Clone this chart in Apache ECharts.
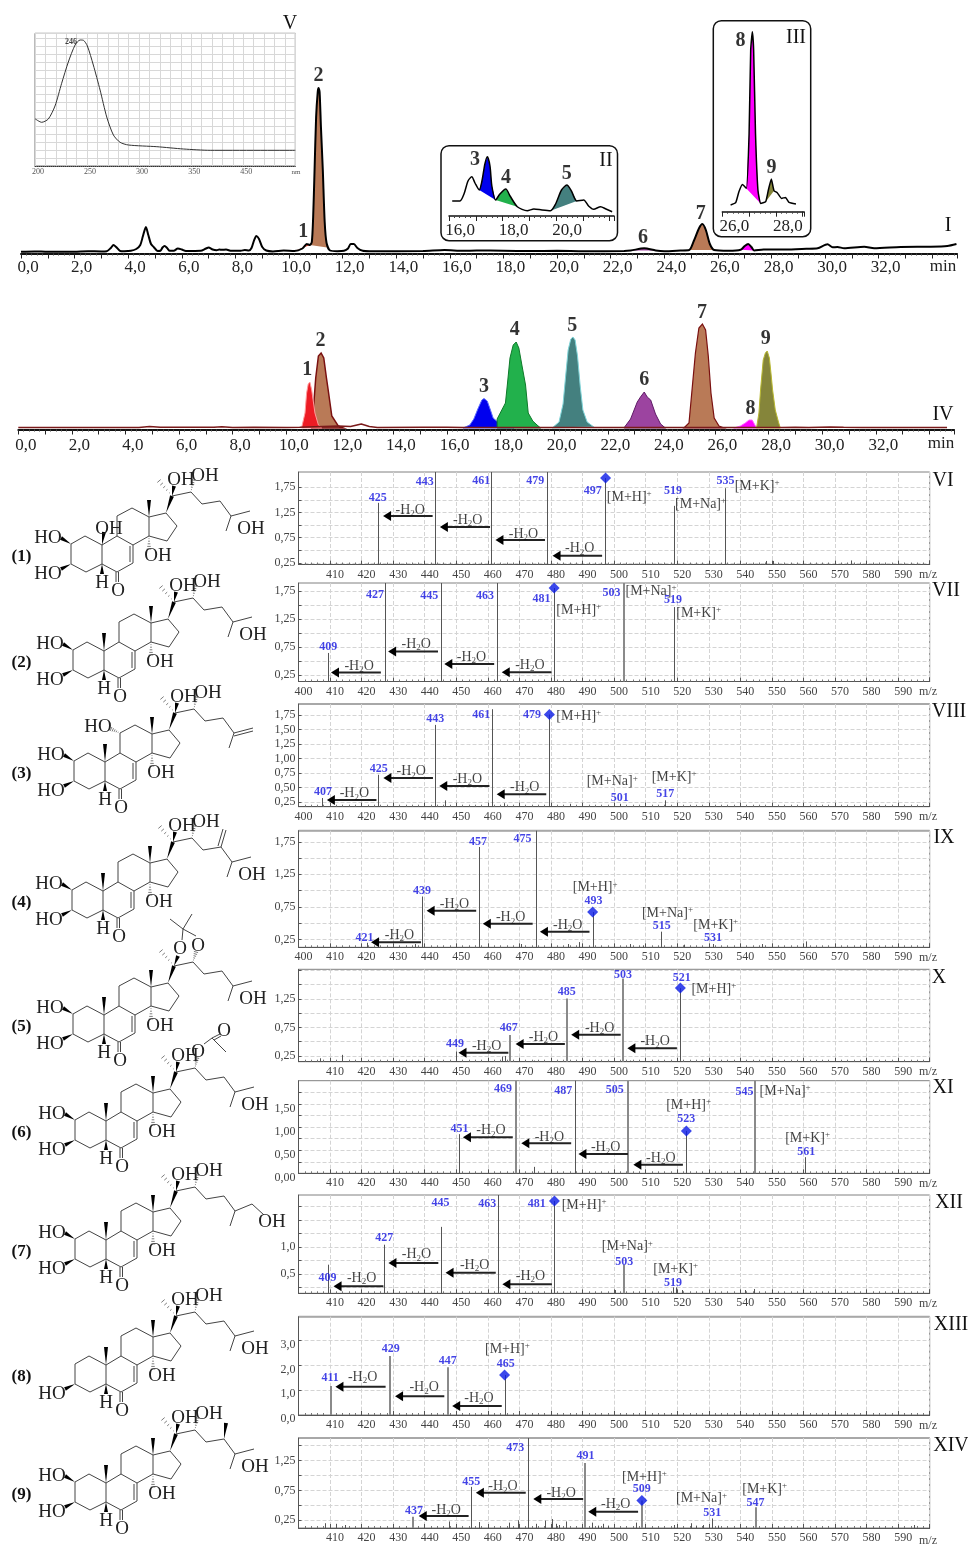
<!DOCTYPE html>
<html><head><meta charset="utf-8">
<style>html,body{margin:0;padding:0;background:#fff}#c{width:968px;height:1544px}</style>
<script src="https://cdn.jsdelivr.net/npm/echarts@6/dist/echarts.min.js"></script>
</head><body><div id="c"></div>
<script>
// ---------- chromatogram I (time, signal) ----------
const traceI=[[0,.3],[.5,.6],[1,.2],[2,.3],[2.5,.7],[3,.6],[3.2,.8],[3.35,4],[3.45,7],[3.55,5],[3.7,1],[3.85,.8],[4.1,1.2],[4.3,3],[4.45,7],[4.55,16],[4.66,25],[4.75,17],[4.85,8],[4.95,5],[5.1,1],[5.2,1.2],[5.28,4.5],[5.36,6],[5.45,4],[5.55,1.2],[5.7,1.2],[5.85,3.5],[6,2.5],[6.15,1],[6.7,1.2],[6.9,3.5],[7,4.5],[7.15,2.5],[7.3,1.8],[7.4,2.5],[7.5,2.2],[7.65,2.4],[7.85,1.2],[8.2,1.2],[8.35,2],[8.5,1.5],[8.6,4],[8.7,12],[8.78,16],[8.88,13],[9,5],[9.15,1.5],[9.4,.6],[9.8,1.5],[10.2,1],[10.5,3.5],[10.66,8],[10.78,7],[10.85,10],[10.9,35],[10.95,80],[11.01,135],[11.07,160],[11.1,164],[11.14,160],[11.19,125],[11.26,82],[11.33,30],[11.4,9],[11.53,1.5],[11.8,.8],[12.05,1.2],[12.2,3.5],[12.3,8],[12.42,8],[12.55,4],[12.75,1.2],[13,.8],[15,1],[15.8,2],[16.5,1.2],[17,1.5],[18,1.2],[19,.9],[20,1.2],[21,.8],[22.5,1],[22.75,1.5],[23.25,3.7],[23.68,1.5],[24,.8],[24.6,1.5],[24.93,2],[25.1,11],[25.3,24],[25.42,28],[25.55,22],[25.7,8],[25.86,2],[26.4,1.2],[26.85,2.2],[27,6],[27.13,8],[27.25,5],[27.35,1.5],[27.7,2.5],[28.5,2.5],[29.3,3.2],[29.72,3.7],[30.09,7.7],[30.28,4.7],[30.46,5],[30.71,3.7],[31.46,5.3],[31.83,3.7],[32.82,5],[33.94,5.3],[34.56,6],[34.9,8]];
const fill1I=[[10.2,1],[10.5,3.5],[10.66,8],[10.78,7]];
const fill2I=[[10.78,7],[10.85,10],[10.9,35],[10.95,80],[11.01,135],[11.07,160],[11.1,164],[11.14,160],[11.19,125],[11.26,82],[11.33,30],[11.4,9],[11.42,4.5]];
const fill6I=[[22.75,1.5],[23.25,3.7],[23.68,1.5]];
const fill7I=[[24.93,2],[25.1,11],[25.3,24],[25.42,28],[25.55,22],[25.7,8],[25.86,2]];
const fill8I=[[26.85,2.2],[27,6],[27.13,8],[27.25,5],[27.35,1.5]];
const namesI=[[10.53,21,'1'],[11.1,177,'2'],[23.21,15,'6'],[25.36,39,'7']];
// ---------- chromatogram IV ----------
const baseIV=[[0,.5],[4.5,.5],[4.9,1.5],[5.3,.7],[7.3,.7],[7.6,1.2],[8,.6],[8.8,.8],[10,.5],[10.5,.7],[11.94,2],[12.4,1.5],[12.8,4],[13.1,1.5],[13.4,.6],[15.1,.8],[16,.8],[16.6,.5],[19.5,.5],[22.6,.5],[24.8,.5],[26.6,.5],[28.5,.6],[29,.8],[29.5,.6],[30.3,1],[30.8,.8],[31.5,.6],[34.66,.5]];
const peak1IV=[[10.57,0],[10.7,15],[10.76,35],[10.82,44],[10.88,46],[10.95,38],[11.07,15],[11.2,3],[11.32,0]];
const peak2IV=[[10.95,0],[11.03,25],[11.1,50],[11.2,72],[11.3,75],[11.4,70],[11.5,50],[11.57,37],[11.7,12],[11.94,2],[12.13,0]];
const peak3IV=[[16.6,0],[16.85,3],[17,9],[17.15,19],[17.3,28],[17.38,29.5],[17.5,27],[17.62,18],[17.72,10],[17.85,7],[18.1,4],[18.5,0]];
const peak4IV=[[17.87,0],[17.87,9],[18.18,25],[18.25,43],[18.35,70],[18.47,83],[18.58,86],[18.68,80],[18.8,62],[18.93,43],[19.03,15],[19.2,7],[19.36,3],[19.49,0]];
const peak5IV=[[19.92,0],[20.18,6],[20.33,24],[20.42,50],[20.52,78],[20.62,89],[20.7,91],[20.78,88],[20.87,72],[20.97,42],[21.07,18],[21.23,6],[21.48,1]];
const peak6IV=[[22.6,0],[22.85,9],[23.1,26],[23.22,31],[23.36,36],[23.47,31],[23.6,28],[23.78,14],[23.97,4],[24.15,0]];
const peak7IV=[[24.84,0],[25.03,5],[25.15,40],[25.27,75],[25.4,100],[25.53,104],[25.65,98],[25.75,72],[25.85,35],[25.97,10],[26.15,2],[26.33,0]];
const peak8IV=[[26.7,0],[26.95,2],[27.13,5],[27.27,8],[27.39,8],[27.51,2],[27.57,0]];
const peak9IV=[[27.55,0],[27.64,15],[27.7,38],[27.8,68],[27.88,75],[27.95,77],[28.03,70],[28.1,52],[28.15,38],[28.25,18],[28.38,5],[28.44,0]];
const namesIV=[[10.78,59,'1'],[11.28,88,'2'],[17.38,42,'3'],[18.53,99,'4'],[20.67,103,'5'],[23.36,49,'6'],[25.52,116,'7'],[27.33,20,'8'],[27.89,90,'9']];
// ---------- UV spectrum V ----------
const spectrumV=[[200,47.3],[206.4,43.7],[212.8,47],[219.2,60],[225.6,82.7],[232,104],[238.5,121],[243.3,126],[246.5,125.7],[250.3,120],[256,101],[262.5,76],[268.9,49],[275.3,31],[281.7,23.7],[289.7,21],[317,19.3],[342.6,17],[368.3,15.7],[450,15.7]];
// ---------- inset II ----------
const traceII=[[16.12,15],[16.41,15],[16.56,22],[16.71,35],[16.85,39.3],[16.97,33],[17.13,26],[17.23,35],[17.34,52],[17.43,59.3],[17.53,50],[17.6,30],[17.74,16],[17.9,22],[18.12,27],[18.28,20],[18.55,9.3],[18.92,5.3],[19.17,7],[19.47,6],[19.79,5.3],[19.98,12],[20.2,26],[20.4,31],[20.57,25],[20.77,15],[21.03,16],[21.21,10],[21.4,6.7],[21.66,9.3],[21.86,7],[22.09,4.3]];
const fill3II=[[17.13,26],[17.23,35],[17.34,52],[17.43,59.3],[17.53,50],[17.6,30],[17.74,16]];
const fill4II=[[17.74,16],[17.9,22],[18.12,27],[18.28,20],[18.55,9.3]];
const fill5II=[[19.79,5.3],[19.98,12],[20.2,26],[20.4,31],[20.57,25],[20.77,15]];
const namesII=[[16.97,57,'3'],[18.13,39,'4'],[20.4,43,'5']];
// ---------- inset III ----------
const traceIII=[[26.31,6.7],[26.5,9],[26.62,20],[26.75,27.3],[26.9,23.3],[27,78],[27.06,161.7],[27.12,180],[27.17,161.7],[27.24,78],[27.33,21.7],[27.43,8.3],[27.62,10],[27.72,21.7],[27.83,32.7],[27.93,21],[28.05,19],[28.21,13.3],[28.36,14.3],[28.49,9.3],[28.75,7.7]];
const fill8III=[[26.9,23.3],[27,78],[27.06,161.7],[27.12,180],[27.17,161.7],[27.24,78],[27.33,21.7],[27.43,8.3]];
const fill9III=[[27.62,10],[27.72,21.7],[27.83,32.7],[27.93,21]];
const namesIII=[[26.68,172,'8'],[27.84,45,'9']];
// ---------- mass spectra ----------
const peaksVI=[[425.2,1.44],[443.2,2.05],[461,2.05],[478.6,2.05],[497,1.93],[519,1.38],[535,1.73],[548,.29],[550.5,.29],[575,.3]];
const markVI=[[497.3,1.93]];
const blueVI=[[440,83.5,'443'],[457.9,84.5,'461'],[475,84.5,'479'],[425.1,67.5,'425'],[493.2,74.5,'497'],[518.7,74.5,'519'],[535.3,84.5,'535']];
const ionsVI=[[504.8,68.5,'M+H'],[527.4,61.5,'M+Na'],[545.3,79.5,'M+K']];
const lossVI=[[442.5,426.8,48.5,435.4,55.5],[460.7,444.8,37.5,453.6,45.5],[478.1,462.4,24.5,471.3,31.5],[496.2,480.5,8.8,489.1,16.8]];

const peaksVII=[[409.2,.64],[427.4,1.89],[445,1.89],[463,1.89],[481,1.8],[503.2,1.89],[519,1.46]];
const markVII=[[481,1.8]];
const blueVII=[[424.2,87.5,'427'],[441.4,86.5,'445'],[459.1,87,'463'],[477,84,'481'],[499.2,90,'503'],[518.7,82.5,'519'],[409.4,35.5,'409']];
const ionsVII=[[488.8,72.5,'M+H'],[511.7,91.5,'M+Na'],[526.8,69,'M+K']];
const lossVII=[[480.2,464.4,9.2,473.3,17.5],[462,446.2,17.5,454.8,25.5],[444.2,428.4,30,437.3,38],[426.1,410.3,9,419.2,16.5]];

const peaksVIII=[[407.6,.32],[425.1,.72],[443.3,1.58],[446.3,.28],[461.4,1.85],[465.1,.23],[479.5,1.76],[486,.22],[501.8,.22],[516.2,.28]];
const markVIII=[[479.5,1.76]];
const blueVIII=[[407.8,15.7,'407'],[425.4,38.4,'425'],[443.3,88.4,'443'],[457.9,92.7,'461'],[474,92.4,'479'],[501.8,10,'501'],[516.2,14,'517']];
const ionsVIII=[[488.8,91.7,'M+H'],[499.4,26,'M+Na'],[519,30.7,'M+K']];
const lossVIII=[[478.5,462.8,12.4,471.7,20],[460.5,444.6,20.7,453.5,28.4],[442.6,426.9,28.7,435.7,36],[424.7,409,6.7,417.7,14]];

const peaksIX=[[421.7,.2],[437,.18],[439.2,.91],[457.2,1.67],[470.6,.18],[475.1,1.92],[485.4,.18],[488.8,.21],[493.2,.67],[505.1,.18],[509,.16],[515,.37],[522,.17],[531.3,.18],[546.9,.18],[560.9,.22]];
const markIX=[[493.2,.67]];
const blueIX=[[420.9,10,'421'],[439.1,57.3,'439'],[456.9,106,'457'],[471,109.6,'475'],[493.5,47.3,'493'],[515.1,22.3,'515'],[531.3,10.6,'531']];
const ionsIX=[[494,60.6,'M+H'],[516.9,35,'M+Na'],[532.2,23.3,'M+K']];
const lossIX=[[492.2,476.5,15.6,485.3,23],[474.2,458.4,23.6,467.2,30.6],[456.3,440.6,36.6,449.4,44],[438.8,423,5,432,13]];

const peaksX=[[406.9,.21],[413.7,.27],[449.8,.33],[464.4,.24],[465.4,.25],[467,.62],[474.5,.17],[485.1,1.26],[502.8,1.61],[505,.17],[521,1.44],[528,.17]];
const markX=[[521,1.44]];
const blueX=[[449.6,19,'449'],[466.6,34.4,'467'],[485,71,'485'],[502.8,87.4,'503'],[521.4,85,'521']];
const ionsX=[[531.6,73.4,'M+H']];
const lossX=[[519.9,504.2,13.4,513,21],[502.1,486.4,27,495.4,34.4],[484.4,468.8,17.7,477.6,25.7],[466.5,450.7,9,459.6,16.7]];

const peaksXI=[[451,.85],[468.8,2.01],[474.7,.14],[487.7,2.01],[504.4,2.01],[522.9,.92],[544.8,2.01],[560.5,.35]];
const markXI=[[522.9,.92]];
const blueXI=[[451,45.6,'451'],[464.8,85.6,'469'],[483.9,83.3,'487'],[500.2,84.6,'505'],[522.9,55.3,'523'],[541.3,82.6,'545'],[560.9,22.6,'561']];
const ionsXI=[[523.6,69.3,'M+H'],[554.2,83.3,'M+Na'],[561.3,36,'M+K']];
const lossXI=[[521.8,506.1,8.6,514.8,16],[504.4,488.7,19.3,497.3,26.6],[486.4,470.6,30,479.5,37.3],[467.9,452.1,36,461,43.6]];

const peaksXII=[[409.2,.67],[427.2,1.04],[445.3,1.37],[463.3,1.96],[481.1,1.85],[500.3,.2],[503.1,.67],[518.7,.25],[519.5,.25],[521.5,.2],[541.4,.2],[544.2,.22]];
const markXII=[[481.1,1.85]];
const blueXII=[[409.2,16.6,'409'],[427.2,56,'427'],[445,91.6,'445'],[459.8,90.6,'463'],[475.5,90.6,'481'],[503.2,32.6,'503'],[518.7,11.6,'519']];
const ionsXII=[[490.5,89.3,'M+H'],[504.2,47.6,'M+Na'],[519.5,25,'M+K']];
const lossXII=[[480.3,464.6,9,473.5,18.3],[462.5,446.6,20.6,455.8,29.3],[444.3,428.5,30.3,437.4,39.6],[426.9,411.1,7,420,16]];

const peaksXIII=[[410.4,1.17],[429.1,2.38],[447.4,1.92],[465.3,1.61]];
const markXIII=[[465.3,1.61]];
const blueXIII=[[410,38,'411'],[429.2,67.3,'429'],[447.3,55,'447'],[465.7,51.7,'465']];
const ionsXIII=[[466.2,66.7,'M+H']];
const lossXIII=[[464.4,448.7,9,457.2,18],[446.2,430.6,18.7,439.8,28.3],[427.6,411.7,28.3,420.3,39]];

const peaksXIV=[[408.5,.2],[412,.19],[414.6,.17],[430,.16],[436.3,.31],[447.7,.23],[454.8,.81],[457.2,.22],[466.8,.21],[469.5,.25],[472.8,1.63],[475.4,.19],[478.1,.245],[480.3,.27],[481.7,.19],[482.5,.17],[484.8,.23],[490.9,1.21],[493.1,.21],[494.8,.16],[496.5,.19],[498.1,.16],[506.9,.21],[508.8,.58],[519.1,.17],[524.4,.2],[526.1,.16],[528.1,.17],[530.9,.28],[533,.16],[545,.47],[589.8,.16],[595,.17]];
const markXIV=[[508.8,.58]];
const blueXIV=[[436.6,19,'437'],[454.7,47.7,'455'],[468.7,82.7,'473'],[490.9,75,'491'],[508.8,40.7,'509'],[531.1,16,'531'],[544.8,26.7,'547']];
const ionsXIV=[[509.6,52.7,'M+H'],[527.7,31,'M+Na'],[547.7,41,'M+K']];
const lossXIV=[[507.6,491.8,16.7,500.5,25],[490.2,474.4,29.7,483.2,36.7],[472,456.2,36,464.8,43.3],[453.9,438.1,12.3,446.8,19.3]];

// ---------- builder ----------
const FONT='"Liberation Serif"';
const option={animation:false,backgroundColor:'#fff',textStyle:{fontFamily:FONT},grid:[],xAxis:[],yAxis:[],series:[],graphic:{elements:[]}};
const G=option.graphic.elements;
const comma=(v,d)=>Number(v).toFixed(d).replace('.',',');

function textRows(g,y,rows,label){option.series.push({type:'scatter',xAxisIndex:g,yAxisIndex:y,data:rows,symbolSize:0,silent:true,z:6,clip:false,
  label:Object.assign({show:true,position:'inside',offset:[0,1],fontFamily:FONT,formatter:p=>p.data[2]},label)});}
function poly(g,y,pts,fill,stroke,lw){option.series.push({type:'custom',coordinateSystem:'cartesian2d',xAxisIndex:g,yAxisIndex:y,data:[pts[0]],encode:{x:0,y:1},silent:true,z:3,
  renderItem:(p,api)=>({type:'polygon',shape:{points:pts.map(q=>api.coord(q))},style:{fill:fill,stroke:stroke||null,lineWidth:lw||0}})});}
function trace(g,y,pts,color,lw,smooth){option.series.push({type:'line',xAxisIndex:g,yAxisIndex:y,data:pts,showSymbol:false,symbol:'none',smooth:smooth===undefined?.25:smooth,silent:true,z:4,lineStyle:{color:color,width:lw}});}

function timeGrid(o){
  const g=option.grid.length;
  option.grid.push({left:o.left,top:o.axisY-o.h,width:o.width,height:o.h,show:false,containLabel:false});
  option.xAxis.push({type:'value',gridIndex:g,min:o.min,max:o.max,interval:1,position:'bottom',
    axisLine:{show:true,onZero:false,lineStyle:{color:'#111',width:o.axisW||2}},
    axisTick:{show:true,length:5,lineStyle:{color:'#222',width:1}},
    minorTick:{show:true,splitNumber:5,length:2,lineStyle:{color:'#444',width:1}},
    splitLine:{show:false},
    axisLabel:{show:true,margin:o.margin,fontSize:17,fontFamily:FONT,color:'#222',padding:[0,0,0,o.pad],showMinLabel:true,showMaxLabel:false,
      formatter:v=>{const r=Math.round(v);return (Math.abs(v-r)<1e-6&&r%2===0&&(!o.lastLabel||r<=o.lastLabel))?comma(r,1):'';}}});
  option.yAxis.push({type:'value',gridIndex:g,show:false,min:o.ymin,max:o.h+o.ymin,splitLine:{show:false}});
  return g;
}
const BOLD={fontSize:20,fontWeight:'bold',color:'#000'};
function rect(x,y,w,h){G.push({type:'rect',shape:{x,y,width:w,height:h,r:8},style:{fill:'none',stroke:'#111',lineWidth:1.5},silent:true});}
function txt(x,y,t,font,fill,align){G.push({type:'text',x,y:y+1,silent:true,z:10,style:{text:t,font:font,fill:fill||'#222',align:align||'center',verticalAlign:'middle',textAlign:align||'center',textVerticalAlign:'middle'}});}

// chromatogram I
let g=timeGrid({left:21,width:936,axisY:253.5,h:201.5,min:0,max:34.92,ymin:-1.5,margin:6,pad:14,lastLabel:32});
poly(g,g,fill1I,'#e0392b');poly(g,g,fill2I,'#b97a57');poly(g,g,fill6I,'#a349a4');poly(g,g,fill7I,'#b97a57');poly(g,g,fill8I,'#ff00ff');
trace(g,g,traceI,'#000',2);textRows(g,g,namesI,BOLD);
// chromatogram IV
g=timeGrid({left:18.3,width:935.7,axisY:429.5,h:121.5,min:0,max:34.92,ymin:-1.5,margin:8,pad:15,lastLabel:32});
poly(g,g,peak2IV,'#b97a57','#7a1010',1.5);poly(g,g,peak1IV,'#ed1c24','#ff9a9a',1);
poly(g,g,peak3IV,'#0000ee','#5a6aff',1);poly(g,g,peak4IV,'#22b14c','#0e7a2a',1);poly(g,g,peak5IV,'#44807f','#7fd4d8',1);
poly(g,g,peak6IV,'#9c44a0','#5e1a66',1);poly(g,g,peak7IV,'#b97a57','#7a1010',1.2);poly(g,g,peak8IV,'#ff00ff','#ff66ff',1);poly(g,g,peak9IV,'#85853a','#b8b830',1);
trace(g,g,baseIV,'#7a1a1a',1.5,0);textRows(g,g,namesIV,BOLD);
// inset II
rect(441,145.7,176.5,95);
g=timeGrid({left:449,width:165,axisY:216,h:70,min:16,max:22.16,ymin:0,margin:6,pad:22,lastLabel:20,axisW:1.5});
poly(g,g,fill3II,'#0000ee');poly(g,g,fill4II,'#22b14c');poly(g,g,fill5II,'#44807f');
trace(g,g,traceII,'#000',1.5);textRows(g,g,namesII,BOLD);
// inset III
rect(713.3,20.7,97.4,216);
g=timeGrid({left:722.3,width:81.7,axisY:211.7,h:190,min:26,max:29.05,ymin:0,margin:6,pad:24,lastLabel:28,axisW:1.5});
poly(g,g,fill8III,'#ff00ff');poly(g,g,fill9III,'#85853a');
trace(g,g,traceIII,'#000',1.5,.15);textRows(g,g,namesIII,BOLD);
// UV spectrum
g=option.grid.length;
option.grid.push({left:35,top:33.3,width:260.3,height:132.7,show:true,borderColor:'#777',borderWidth:1,containLabel:false});
option.xAxis.push({type:'value',gridIndex:g,min:200,max:450,interval:10,
  axisLine:{show:true,lineStyle:{color:'#333',type:'dotted'}},axisTick:{show:false},
  splitLine:{show:true,lineStyle:{color:'#d8d8d8',width:1}},
  axisLabel:{show:true,margin:2,fontSize:8,color:'#555',fontFamily:FONT,padding:[0,0,0,6],showMaxLabel:false,
    formatter:v=>({200:'200',250:'250',300:'300',350:'350',400:'450'})[v]||''}});
option.yAxis.push({type:'value',gridIndex:g,min:0,max:132.7,interval:8,axisLine:{show:false},axisTick:{show:false},axisLabel:{show:false},splitLine:{show:true,lineStyle:{color:'#d8d8d8',width:1}}});
trace(g,g,spectrumV,'#333',1);
textRows(g,g,[[234.6,125,'246']],{fontSize:8,fontWeight:'bold',color:'#111'});
txt(296,171,'nm','7px '+FONT,'#555');

// mass-spectrum panels
function panel(o){
  const gi=option.grid.length,h=o.A-o.T;
  option.grid.push({left:298.5,top:o.T,width:631.2,height:h,show:true,borderColor:'#808080',borderWidth:1,containLabel:false});
  option.xAxis.push({type:'value',gridIndex:gi,min:400,max:600,interval:10,
    axisLine:{show:true,onZero:false,lineStyle:{color:'#555',width:1}},
    axisTick:{show:true,inside:true,length:4,lineStyle:{color:'#555'}},
    minorTick:{show:true,splitNumber:5,length:2,lineStyle:{color:'#777'}},
    splitLine:{show:true,lineStyle:{color:'#d4d4d4',type:'dashed',width:1}},
    axisLabel:{show:true,margin:4,fontSize:12,color:'#444',fontFamily:FONT,padding:[0,0,0,10],showMinLabel:!!o.show400,showMaxLabel:false}});
  const yi=option.yAxis.length;
  const yLabel={show:true,margin:3,fontSize:12,color:'#444',fontFamily:FONT,customValues:o.labels,formatter:v=>comma(v,o.dec)};
  if(o.dy){yLabel.verticalAlign='top';yLabel.lineHeight=o.dy*2;}
  option.yAxis.push({type:'value',gridIndex:gi,min:o.min,max:o.max,
    axisLine:{show:true,lineStyle:{color:'#555',width:1}},
    axisTick:{show:true,inside:true,length:3,customValues:o.ticks,lineStyle:{color:'#555'}},
    splitLine:{show:true,lineStyle:{color:'#d4d4d4',type:'dashed',width:1}},
    axisLabel:yLabel});
  option.yAxis.push({type:'value',gridIndex:gi,show:false,min:0,max:h,splitLine:{show:false}});
  const y2=yi+1,thick=o.thick||[];
  if(o.heavy)G.push({type:'line',silent:true,shape:{x1:298.5,y1:o.T,x2:929.7,y2:o.T},style:{stroke:'#a8a8a8',lineWidth:2}});
  option.series.push({type:'custom',coordinateSystem:'cartesian2d',xAxisIndex:gi,yAxisIndex:yi,data:o.peaks,encode:{x:0,y:1},silent:true,z:3,
    renderItem:(p,api)=>{const m=api.value(0),a=api.coord([m,api.value(1)]),b=api.coord([m,o.min]),t=thick.includes(m),x=Math.round(a[0])+(t?0:.5);
      return {type:'line',shape:{x1:x,y1:a[1],x2:x,y2:b[1]},style:{stroke:t?'#8a8a8a':'#555',lineWidth:t?2:1}};}});
  option.series.push({type:'scatter',xAxisIndex:gi,yAxisIndex:yi,data:o.mark,symbol:'diamond',symbolSize:11,silent:true,z:5,itemStyle:{color:'#0a1ae6'}});
  option.series.push({type:'custom',coordinateSystem:'cartesian2d',xAxisIndex:gi,yAxisIndex:y2,data:o.loss,encode:{x:0,y:2},silent:true,z:4,
    renderItem:(p,api)=>{const a=api.coord([api.value(0),api.value(2)]),b=api.coord([api.value(1),api.value(2)]);
      return {type:'group',children:[
        {type:'line',shape:{x1:a[0],y1:a[1],x2:b[0]+6,y2:b[1]},style:{stroke:'#222',lineWidth:2}},
        {type:'polygon',shape:{points:[[b[0],b[1]],[b[0]+8,b[1]-5],[b[0]+8,b[1]+5]]},style:{fill:'#000'}}]};}});
  textRows(gi,y2,o.blue,{fontSize:12,fontWeight:'bold',color:'#1414e0'});
  textRows(gi,y2,o.ions.map(r=>[r[0],r[1],'{i|['+r[2]+']}{s|+}']),{rich:{i:{fontSize:14,color:'#111',fontFamily:FONT,lineHeight:16},s:{fontSize:9,color:'#111',fontFamily:FONT,verticalAlign:'top',lineHeight:16}}});
  textRows(gi,y2,o.loss.map(r=>[r[3],r[4],'{i|-H}{s|2}{i|O}']),{rich:{i:{fontSize:14,color:'#111',fontFamily:FONT,lineHeight:16},s:{fontSize:9,color:'#111',fontFamily:FONT,verticalAlign:'bottom',lineHeight:14}}});
  txt(928,o.A+9.5,'m/z','12px '+FONT,'#444');
}
const Q=[.25,.5,.75,1,1.25,1.5,1.75];
panel({T:472,A:564.5,min:.22,max:2.05,ticks:Q,labels:[.25,.75,1.25,1.75],dec:2,peaks:peaksVI,mark:markVI,blue:blueVI,ions:ionsVI,loss:lossVI});
panel({T:583,A:681.5,min:.13,max:1.89,ticks:Q,labels:[.25,.75,1.25,1.75],dec:2,show400:true,thick:[503.2],peaks:peaksVII,mark:markVII,blue:blueVII,ions:ionsVII,loss:lossVII});
panel({T:704,A:806.7,min:.17,max:1.94,ticks:Q,labels:Q,dec:2,show400:true,heavy:true,peaks:peaksVIII,mark:markVIII,blue:blueVIII,ions:ionsVIII,loss:lossVIII});
panel({T:830.7,A:947.3,min:.13,max:1.92,ticks:Q,labels:[.25,.75,1.25,1.75],dec:2,show400:true,heavy:true,peaks:peaksIX,mark:markIX,blue:blueIX,ions:ionsIX,loss:lossIX});
panel({T:969.3,A:1061.7,min:.15,max:1.77,ticks:Q,labels:[.25,.75,1.25],dec:2,thick:[485.1,502.8,467],peaks:peaksX,mark:markX,blue:blueX,ions:ionsX,loss:lossX});
panel({T:1080.7,A:1173.3,min:0,max:2.01,ticks:[0,.25,.5,.75,1,1.25,1.5,1.75],labels:[0,.5,1,1.5],dec:2,dy:5,thick:[468.8,504.4,544.8],peaks:peaksXI,mark:markXI,blue:blueXI,ions:ionsXI,loss:lossXI});
panel({T:1195,A:1293.3,min:.14,max:1.96,ticks:Q,labels:[.5,1],dec:1,thick:[503.1],peaks:peaksXII,mark:markXII,blue:blueXII,ions:ionsXII,loss:lossXII});
panel({T:1316.7,A:1415,min:0,max:3.96,ticks:[0,1,2,3],labels:[0,1,2,3],dec:1,dy:4,heavy:true,thick:[410.4,429.1,447.4],peaks:peaksXIII,mark:markXIII,blue:blueXIII,ions:ionsXIII,loss:lossXIII});
panel({T:1438,A:1530,min:.12,max:1.63,ticks:[.25,.5,.75,1,1.25,1.5],labels:[.25,.75,1.25],dec:2,heavy:true,thick:[436.3,490.9,508.8,545],peaks:peaksXIV,mark:markXIV,blue:blueXIV,ions:ionsXIV,loss:lossXIV});

// roman numerals
[['V',290,23],['I',948,225],['II',606,160],['III',796,37],['IV',943,414],['VI',943,480],['VII',946,590],['VIII',949,711],['IX',944,837],['X',939,977],['XI',943,1087],['XII',949,1202],['XIII',951,1324],['XIV',951,1445]]
  .forEach(r=>txt(r[1],r[2],r[0],'20px '+FONT,'#111'));
txt(943,266,'min','17px '+FONT,'#222');txt(941,443,'min','17px '+FONT,'#222');

// structural formulae
const A={C1:[87,642],C2:[73,650],C3:[73,670],C4:[88,678],C5:[104,670],C6:[119,678],C7:[135,669],C8:[135,651],C9:[119,642],C10:[104,651],C11:[119,622],C12:[134,614],C13:[151,623],C14:[151,642],C15:[169,647],C16:[179,632],C17:[168,619],C18:[151,606],C19:[104,633],C20:[174,602],C21:[161,587],C22:[193,598],C23:[204,610],C24:[222,607],C25:[233,622],C26:[252,617],C27:[228,637]};
const RING=['C1-C2','C2-C3','C3-C4','C4-C5','C5-C10','C10-C1','C5-C6','C6-C7','C7-C8','C8-C9','C9-C10','C9-C11','C11-C12','C12-C13','C13-C14','C14-C8','C13-C17','C17-C16','C16-C15','C15-C14'];
function mol(n,dx,dy,o){
  o=o||{};
  const P=p=>[p[0]+dx,p[1]+dy],pt=k=>typeof k==='string'?P(A[k]):P(k);
  const bond=(a,b,w)=>{const p=pt(a),q=pt(b);G.push({type:'line',silent:true,shape:{x1:p[0],y1:p[1],x2:q[0],y2:q[1]},style:{stroke:'#444',lineWidth:w||1}});};
  const wedge=(a,b)=>{const p=pt(a),q=pt(b),ux=q[0]-p[0],uy=q[1]-p[1],l=Math.hypot(ux,uy),nx=-uy/l*2,ny=ux/l*2;
    G.push({type:'polygon',silent:true,shape:{points:[p,[q[0]+nx,q[1]+ny],[q[0]-nx,q[1]-ny]]},style:{fill:'#000'}});};
  const hash=(a,b)=>{const p=pt(a),q=pt(b),ux=q[0]-p[0],uy=q[1]-p[1],l=Math.hypot(ux,uy),nx=-uy/l,ny=ux/l;
    for(let i=1;i<=5;i++){const f=i/5,x=p[0]+ux*f,y=p[1]+uy*f,s=f*2.2;G.push({type:'line',silent:true,shape:{x1:x-nx*s,y1:y-ny*s,x2:x+nx*s,y2:y+ny*s},style:{stroke:'#444',lineWidth:.7}});}};
  const T=(x,y,t)=>txt(x+dx,y+dy,t,'19px '+FONT,'#222');
  RING.forEach(b=>{const s=b.split('-');bond(s[0],s[1]);});
  bond([132,668],[132,652]);
  bond([118,678],[118,688]);bond([120.5,678],[120.5,688]);T(120,696,'O');
  wedge('C5',[104,680]);T(104,688,'H');
  wedge('C13','C18');
  hash('C14',[151,655]);T(160,661,'OH');
  if(!o.noHO2){wedge('C2',[63,644]);T(50,643,'HO');}
  wedge('C3',[63,675]);T(50,679,'HO');
  if(o.oh10){wedge('C10',[106,638]);T(111,634,'OH');}else wedge('C10','C19');
  if(o.ho11){hash('C11',[110,618]);T(97,615,'HO');}
  wedge('C17','C20');hash('C20','C21');
  bond('C20','C22');bond('C22','C23');bond('C23','C24');bond('C24','C25');
  if(o.acetal){
    T(180,584,'O');T(198,581,'O');wedge('C20',[178,592]);hash('C22',[196,588]);
    bond([182,576],[183,565]);bond([196,572],[183,565]);bond([183,565],[170,555]);bond([183,565],[192,550]);
  }else if(o.acetyl){
    wedge('C20',[176,592]);T(183,585,'OH');T(196,581,'O');hash('C22',[195,588]);
    bond([202,574],[210,568]);bond([210,568],[218,564]);bond([212,570],[219,566]);T(222,560,'O');bond([210,568],[224,582]);
  }else{
    wedge('C20',[176,592]);T(183,585,'OH');hash('C22',[195,586]);T(207,581,'OH');
  }
  if(o.exo){bond('C24',[227,590]);bond([219,606],[224,589]);}
  if(o.me24){wedge('C24',[224,591]);}
  bond('C25','C27');
  if(o.terminal){bond('C25','C26');bond([233,625],[252,620]);}
  else if(o.ch2oh){bond('C25',[250,615]);bond([250,615],[262,626]);T(270,632,'OH');}
  else{bond('C25','C26');T(253,634,'OH');}
  txt(21.5,661.5+dy,'('+n+')','bold 17px '+FONT,'#111');
}
mol(1,-2,-106,{oh10:true});
mol(2,0,0);
mol(3,1,111,{ho11:true,terminal:true});
mol(4,-1,240,{exo:true});
mol(5,0,364,{acetal:true});
mol(6,2,470,{acetyl:true});
mol(7,2,589,{ch2oh:true});
mol(8,2,714,{noHO2:true});
mol(9,2,832,{me24:true});

const chart=echarts.init(document.getElementById('c'),null,{renderer:'canvas',width:968,height:1544});
chart.setOption(option);
</script></body></html>
